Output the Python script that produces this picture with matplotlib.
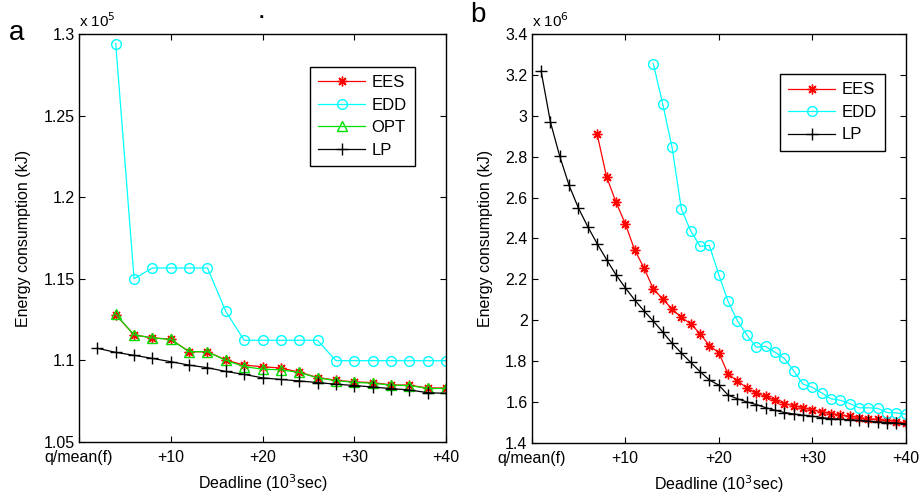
import matplotlib
matplotlib.use('Agg')
import matplotlib.pyplot as plt

plt.rcParams['font.family'] = ['Liberation Sans', 'DejaVu Sans']
plt.rcParams['font.size'] = 11.5

# panel a data (x in 10^3 sec after q/mean(f), y in 10^5 kJ)
a_lp_x = [2, 4, 6, 8, 10, 12, 14, 16, 18, 20, 22, 24, 26, 28, 30, 32, 34, 36, 38, 40]
a_lp = [1.1074, 1.1049, 1.1031, 1.1012, 1.0992, 1.0971, 1.0955, 1.0932, 1.0914, 1.0893,
        1.0883, 1.0874, 1.0864, 1.0854, 1.0846, 1.0837, 1.0827, 1.0819, 1.0802, 1.0798]
a_x = [4, 6, 8, 10, 12, 14, 16, 18, 20, 22, 24, 26, 28, 30, 32, 34, 36, 38, 40]
a_ees = [1.1280, 1.1156, 1.1138, 1.1130, 1.1053, 1.1053, 1.1002, 1.0971, 1.0961, 1.0953,
         1.0928, 1.0895, 1.0879, 1.0868, 1.0864, 1.0850, 1.0848, 1.0831, 1.0831]
a_opt = [1.1282, 1.1156, 1.1138, 1.1128, 1.1053, 1.1053, 1.1000, 1.0962, 1.0946, 1.0942,
         1.0926, 1.0893, 1.0876, 1.0865, 1.0860, 1.0848, 1.0846, 1.0828, 1.0828]
a_edd = [1.2941, 1.1500, 1.1566, 1.1566, 1.1566, 1.1566, 1.1300, 1.1123, 1.1123, 1.1123,
         1.1123, 1.1123, 1.0998, 1.0998, 1.0998, 1.0998, 1.0998, 1.0998, 1.0998]

# panel b data (y in 10^6 kJ)
b_lp_x = list(range(1, 41))
b_lp = [3.219, 2.969, 2.801, 2.659, 2.548, 2.457, 2.374, 2.297, 2.223, 2.159,
        2.100, 2.046, 1.996, 1.943, 1.888, 1.840, 1.794, 1.749, 1.708, 1.683,
        1.634, 1.616, 1.601, 1.588, 1.573, 1.560, 1.549, 1.542, 1.536, 1.531,
        1.524, 1.519, 1.516, 1.513, 1.510, 1.506, 1.503, 1.500, 1.497, 1.493]
b_ees_x = list(range(7, 41))
b_ees = [2.909, 2.702, 2.579, 2.472, 2.345, 2.256, 2.154, 2.104, 2.055, 2.014,
         1.983, 1.934, 1.876, 1.842, 1.737, 1.703, 1.670, 1.642, 1.629, 1.608,
         1.593, 1.583, 1.573, 1.562, 1.552, 1.544, 1.537, 1.531, 1.524, 1.519,
         1.515, 1.510, 1.505, 1.498]
b_edd_x = list(range(13, 41))
b_edd = [3.255, 3.059, 2.847, 2.545, 2.437, 2.362, 2.366, 2.223, 2.092, 1.997,
         1.929, 1.868, 1.872, 1.844, 1.814, 1.754, 1.688, 1.672, 1.645, 1.616,
         1.609, 1.593, 1.572, 1.572, 1.569, 1.549, 1.547, 1.541]

x_ticks = [0, 10, 20, 30, 40]
x_labels = ['q/mean(f)', '+10', '+20', '+30', '+40']

ast = (8, 2, 0)  # matlab-like asterisk

fig = plt.figure(figsize=(9.19, 4.97), dpi=100)
ax1 = fig.add_axes([0.086, 0.1107, 0.3993, 0.821])
ax2 = fig.add_axes([0.5786, 0.1087, 0.407, 0.823])

ax1.plot(a_x, a_ees, color='red', marker=ast, ms=7, lw=0.9, label='EES')
ax1.plot(a_x, a_edd, color='cyan', marker='o', ms=7, mfc='none', lw=0.9, label='EDD')
ax1.plot(a_x, a_opt, color='#00e000', marker='^', ms=7, mfc='none', lw=0.9, label='OPT')
ax1.plot(a_lp_x, a_lp, color='black', marker='+', ms=8, lw=0.9, label='LP')
ax1.set_ylim(1.05, 1.3)
ax1.set_yticks([1.05, 1.1, 1.15, 1.2, 1.25, 1.3])
ax1.set_yticklabels(['1.05', '1.1', '1.15', '1.2', '1.25', '1.3'])

ax2.plot(b_ees_x, b_ees, color='red', marker=ast, ms=7, lw=0.9, label='EES')
ax2.plot(b_edd_x, b_edd, color='cyan', marker='o', ms=7, mfc='none', lw=0.9, label='EDD')
ax2.plot(b_lp_x, b_lp, color='black', marker='+', ms=8, lw=0.9, label='LP')
ax2.set_ylim(1.4, 3.4)
yt = [1.4, 1.6, 1.8, 2.0, 2.2, 2.4, 2.6, 2.8, 3.0, 3.2, 3.4]
ax2.set_yticks(yt)
ax2.set_yticklabels(['%g' % v for v in yt])

for ax, anchor in ((ax1, (0.916, 0.919)), (ax2, (0.945, 0.902))):
    ax.set_xlim(0, 40)
    ax.set_xticks(x_ticks)
    ax.set_xticklabels(x_labels)
    ax.tick_params(direction='in', top=True, right=True, length=4, width=0.8,
                   labelsize=11.5)
    ax.tick_params(axis='x', pad=6)
    ax.tick_params(axis='y', pad=3)
    ax.set_xlabel('Deadline (10$^3$sec)', fontsize=11.5, labelpad=5)
    ax.set_ylabel('Energy consumption (kJ)', fontsize=11.5, labelpad=9)
    for s in ax.spines.values():
        s.set_linewidth(1)
    leg = ax.legend(loc='upper right', bbox_to_anchor=anchor, borderaxespad=0,
                    fancybox=False, edgecolor='black', framealpha=1, fontsize=12,
                    handlelength=2.8, borderpad=0.5, labelspacing=0.45,
                    handletextpad=0.4)
    leg.get_frame().set_linewidth(1)

ax1.text(0.0, 1.01, r'x 10$^5$', transform=ax1.transAxes, fontsize=11, va='bottom')
ax2.text(0.0, 1.01, r'x 10$^6$', transform=ax2.transAxes, fontsize=11, va='bottom')
fig.text(0.01, 0.92, 'a', fontsize=20)
fig.text(0.512, 0.955, 'b', fontsize=20)
fig.text(0.285, 0.962, '\u00b7', fontsize=14, fontweight='bold', ha='center', va='center')

fig.savefig('out.png', dpi=100)
